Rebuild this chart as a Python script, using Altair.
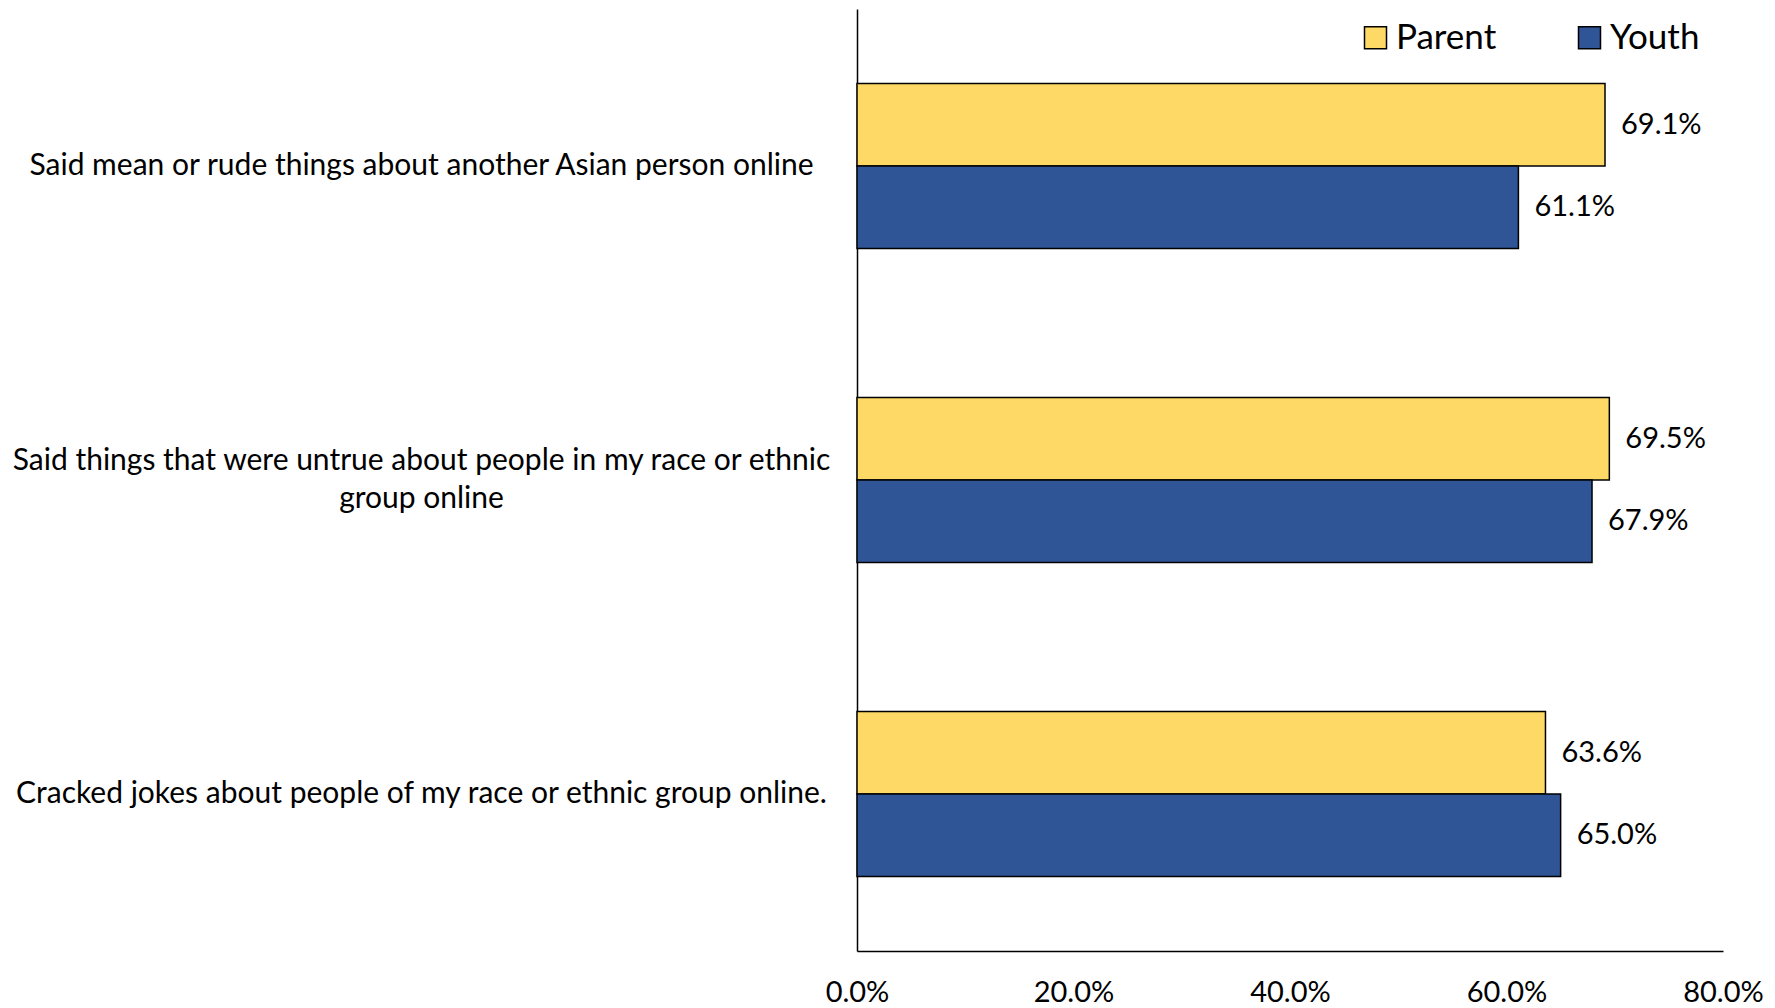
import altair as alt
import pandas as pd

categories = [
    "Said mean or rude things about another Asian person online",
    "Said things that were untrue about people in my race or ethnic|group online",
    "Cracked jokes about people of my race or ethnic group online.",
]
groups = ["Parent", "Youth"]
parent_values = [69.1, 69.5, 63.6]
youth_values = [61.1, 67.9, 65.0]
x_ticks = [0, 20, 40, 60, 80]

rows = []
for c, p, y in zip(categories, parent_values, youth_values):
    rows.append({"category": c, "group": "Parent", "value": p})
    rows.append({"category": c, "group": "Youth", "value": y})
df = pd.DataFrame(rows)

FONT = "Lato"

y_enc = alt.Y(
    "category:N",
    sort=categories,
    scale=alt.Scale(paddingInner=0.475, paddingOuter=0.2375),
    axis=alt.Axis(
        title=None,
        ticks=False,
        domainColor="black",
        domainWidth=1.5,
        labelFontSize=30,
        labelFont=FONT,
        labelColor="black",
        labelAlign="center",
        labelPadding=436,
        labelLimit=1000,
        labelLineHeight=38,
        labelOffset={"condition": {"test": "indexof(datum.label, '|') >= 0", "value": -19}, "value": 0},
        labelExpr="split(datum.label, '|')",
    ),
)

color = alt.Color(
    "group:N",
    scale=alt.Scale(domain=groups, range=["#FFD966", "#2F5597"]),
    legend=alt.Legend(
        title=None,
        orient="none",
        direction="horizontal",
        legendX=501,
        legendY=11,
        symbolType="square",
        symbolSize=484,
        symbolStrokeColor="black",
        symbolStrokeWidth=1.5,
        labelFontSize=35,
        labelFont=FONT,
        labelColor="black",
        labelOffset=3,
        columnPadding=75,
        padding=0,
    ),
)

bars = alt.Chart(df).mark_bar(stroke="black", strokeWidth=1.5).encode(
    x=alt.X(
        "value:Q",
        scale=alt.Scale(domain=[0, 80]),
        axis=alt.Axis(
            title=None,
            values=x_ticks,
            ticks=False,
            grid=False,
            domainColor="black",
            domainWidth=1.5,
            labelFontSize=29,
            labelFont=FONT,
            labelColor="black",
            labelPadding=27,
            labelFlush=False,
            labelExpr="format(datum.value, '.1f') + '%'",
        ),
    ),
    y=y_enc,
    yOffset=alt.YOffset("group:N", sort=groups, scale=alt.Scale(paddingInner=0, paddingOuter=0)),
    color=color,
)

labels = alt.Chart(df).transform_calculate(
    label="format(datum.value, '.1f') + '%'"
).mark_text(align="left", baseline="middle", dx=16, fontSize=29, font=FONT, color="black").encode(
    x="value:Q",
    y=alt.Y("category:N", sort=categories),
    yOffset=alt.YOffset("group:N", sort=groups),
    text="label:N",
)

chart = alt.layer(bars, labels).properties(
    width=866,
    height=942,
    autosize=alt.AutoSizeParams(type="none"),
    padding={"left": 849, "top": 1, "right": 44, "bottom": 57},
).configure_view(stroke=None)

chart.save("out.html", embed_options={"renderer": "svg", "actions": False})
